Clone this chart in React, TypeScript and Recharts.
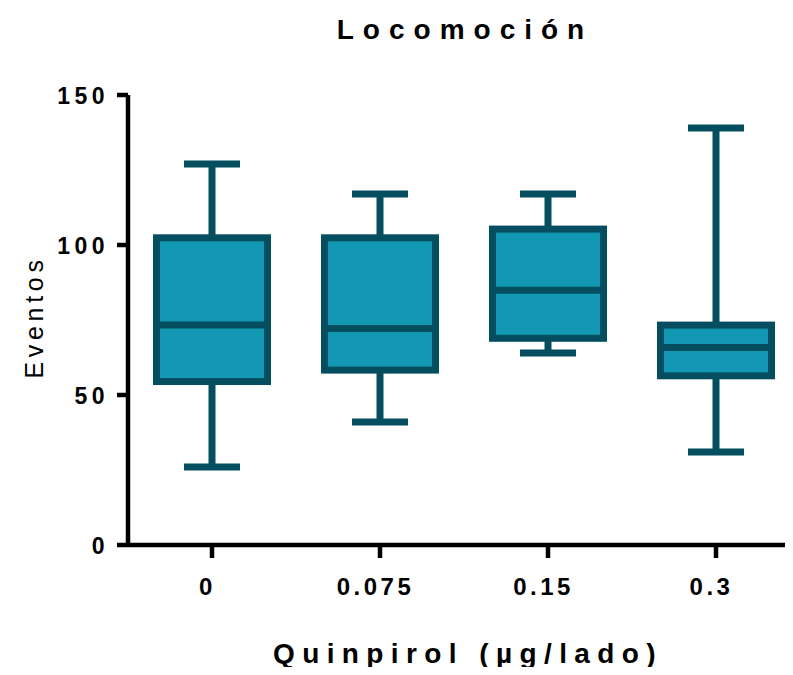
import { ComposedChart, Bar, XAxis, YAxis } from "recharts";

const doses = ["0", "0.075", "0.15", "0.3"];
const mins = [26, 41, 64, 31];
const q1s = [54.5, 58.3, 68.9, 56.4];
const medians = [73.3, 72.2, 84.9, 65.8];
const q3s = [102.4, 102.4, 105.3, 73.3];
const maxs = [127, 117, 117, 139];
const yTicks = [0, 50, 100, 150];

const FILL = "#1298b3";
const EDGE = "#044e5f";
const FONT = "'Liberation Sans', Arial, sans-serif";

const data = doses.map((d, i) => ({
  dose: d,
  range: [mins[i], maxs[i]],
  min: mins[i], q1: q1s[i], median: medians[i], q3: q3s[i], max: maxs[i],
}));

// box + whiskers, inner levels placed on the same linear scale as the min/max bar
const BoxShape = (props: any) => {
  const { x, y, width, height, payload } = props;
  const { min, q1, median, q3, max } = payload;
  const toPx = (v: number) => y + ((max - v) / (max - min)) * height;
  const cx = x + width / 2;
  const sw = 7;
  const top = toPx(q3);
  const bottom = toPx(q1);
  return (
    <g>
      <line x1={cx} x2={cx} y1={y} y2={y + height} stroke={EDGE} strokeWidth={sw} />
      <line x1={cx - 28} x2={cx + 28} y1={y} y2={y} stroke={EDGE} strokeWidth={sw} />
      <line x1={cx - 28} x2={cx + 28} y1={y + height} y2={y + height} stroke={EDGE} strokeWidth={sw} />
      <rect x={x + sw / 2} y={top} width={width - sw} height={bottom - top} fill={FILL} stroke={EDGE} strokeWidth={sw} />
      <line x1={x + sw / 2} x2={x + width - sw / 2} y1={toPx(median)} y2={toPx(median)} stroke={EDGE} strokeWidth={sw} />
    </g>
  );
};

const YTick = (props: any) => {
  const { y, payload } = props;
  return (
    <text x={109} y={y} dy={8.5} textAnchor="end" fontFamily={FONT} fontWeight="bold" fontSize={23} letterSpacing={4.5} fill="#000">
      {payload.value}
    </text>
  );
};

const XTick = (props: any) => {
  const { x, payload } = props;
  return (
    <text x={x - 4.5} y={595} textAnchor="middle" fontFamily={FONT} fontWeight="bold" fontSize={24} letterSpacing={3.5} fill="#000">
      {payload.value}
    </text>
  );
};

export default function App() {
  return (
    <div style={{ margin: -8, width: 793, height: 675, overflow: "hidden", position: "relative", background: "#fff" }}>
      <ComposedChart width={800} height={675} data={data} margin={{ top: 95, right: 0, left: 0, bottom: 0 }}>
        <XAxis
          dataKey="dose"
          type="category"
          height={130}
          axisLine={{ stroke: "#000", strokeWidth: 4.5 }}
          tickLine={{ stroke: "#000", strokeWidth: 4.5 }}
          tickSize={13}
          tick={<XTick />}
          interval={0}
        />
        <YAxis
          type="number"
          domain={[0, 150]}
          ticks={yTicks}
          width={128}
          axisLine={{ stroke: "#000", strokeWidth: 4.5 }}
          tickLine={{ stroke: "#000", strokeWidth: 4.5 }}
          tickSize={11}
          tick={<YTick />}
        />
        <Bar dataKey="range" barSize={118} shape={<BoxShape />} isAnimationActive={false} />
      </ComposedChart>
      <svg width={800} height={675} style={{ position: "absolute", left: 0, top: 0, pointerEvents: "none" }}>
        <text x={465} y={39} textAnchor="middle" fontFamily={FONT} fontWeight="bold" fontSize={28} letterSpacing={9} fill="#000">
          Locomoción
        </text>
        <text x={468} y={663} textAnchor="middle" fontFamily={FONT} fontWeight="bold" fontSize={28} letterSpacing={7.4} fill="#000">
          Quinpirol (µg/lado)
        </text>
        <text
          x={43} y={317} transform="rotate(-90, 43, 317)" textAnchor="middle"
          fontFamily={FONT} fontSize={25} letterSpacing={4.7} fill="#000"
        >
          Eventos
        </text>
      </svg>
    </div>
  );
}
